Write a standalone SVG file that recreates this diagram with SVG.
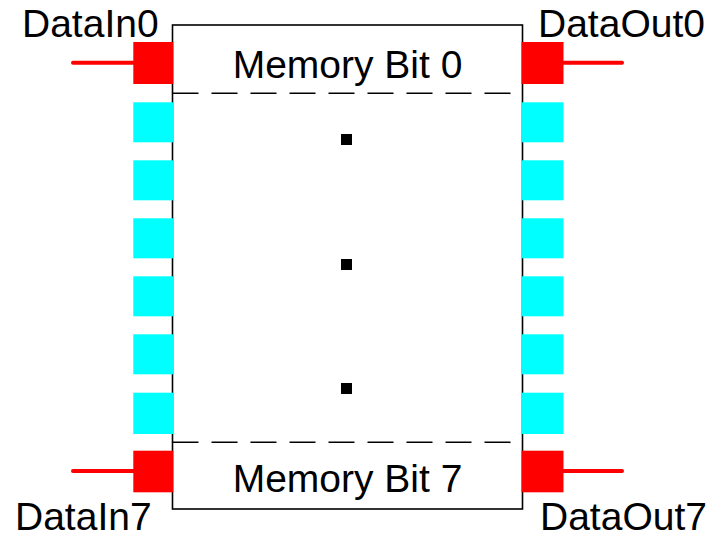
<svg xmlns="http://www.w3.org/2000/svg" width="710" height="538" viewBox="0 0 710 538">
  <style>
    .lbl { font-family: "Liberation Sans", Arial, sans-serif; font-size: 39px; fill: #000; }
    .mid { text-anchor: middle; }
    .box { fill: #fff; stroke: #000; stroke-width: 1.6; }
    .sep { stroke: #000; stroke-width: 1.6; stroke-dasharray: 26 13; fill: none; }
    .port { fill: #ff0000; }
    .bit { fill: #00ffff; }
    .wire { stroke: #ff0000; stroke-width: 4; stroke-linecap: round; fill: none; }
    .dot { fill: #000; }
  </style>

  <!-- memory block -->
  <g id="memory">
    <rect class="box" x="172.5" y="25" width="350" height="484"/>
    <line class="sep" x1="172.5" y1="93.3" x2="522.5" y2="93.3"/>
    <line class="sep" x1="172.5" y1="442.3" x2="522.5" y2="442.3"/>
    <text class="lbl mid" x="347.5" y="77.5">Memory Bit 0</text>
    <text class="lbl mid" x="347.5" y="492">Memory Bit 7</text>
    <rect class="dot" x="341" y="134" width="11" height="11"/>
    <rect class="dot" x="341" y="259" width="11" height="11"/>
    <rect class="dot" x="341" y="383" width="11" height="11"/>
  </g>

  <!-- input pins -->
  <g id="data-in">
    <rect class="port" x="133.3" y="42" width="40" height="42"/>
    <rect class="port" x="133.3" y="450.7" width="40" height="41.6"/>
    <rect class="bit" x="133.3" y="102.3" width="40" height="40"/>
    <rect class="bit" x="133.3" y="160.3" width="40" height="40"/>
    <rect class="bit" x="133.3" y="218.3" width="40" height="40"/>
    <rect class="bit" x="133.3" y="276.3" width="40" height="40"/>
    <rect class="bit" x="133.3" y="334.3" width="40" height="40"/>
    <rect class="bit" x="133.3" y="392.7" width="40" height="41.3"/>
    <text class="lbl" x="22" y="37">DataIn0</text>
    <text class="lbl" x="15" y="530">DataIn7</text>
  </g>

  <!-- output pins -->
  <g id="data-out">
    <rect class="port" x="521.5" y="42" width="42" height="42"/>
    <rect class="port" x="521.5" y="450.7" width="42" height="41.6"/>
    <rect class="bit" x="521.5" y="102.3" width="42" height="40"/>
    <rect class="bit" x="521.5" y="160.3" width="42" height="40"/>
    <rect class="bit" x="521.5" y="218.3" width="42" height="40"/>
    <rect class="bit" x="521.5" y="276.3" width="42" height="40"/>
    <rect class="bit" x="521.5" y="334.3" width="42" height="40"/>
    <rect class="bit" x="521.5" y="392.7" width="42" height="41.3"/>
    <text class="lbl" x="538" y="37">DataOut0</text>
    <text class="lbl" x="540" y="530">DataOut7</text>
  </g>

  <!-- wires -->
  <g id="connectors">
    <line class="wire" x1="73" y1="62.7" x2="134" y2="62.7"/>
    <line class="wire" x1="73" y1="471" x2="134" y2="471"/>
    <line class="wire" x1="563" y1="62.7" x2="622" y2="62.7"/>
    <line class="wire" x1="563" y1="471" x2="622" y2="471"/>
  </g>
</svg>
